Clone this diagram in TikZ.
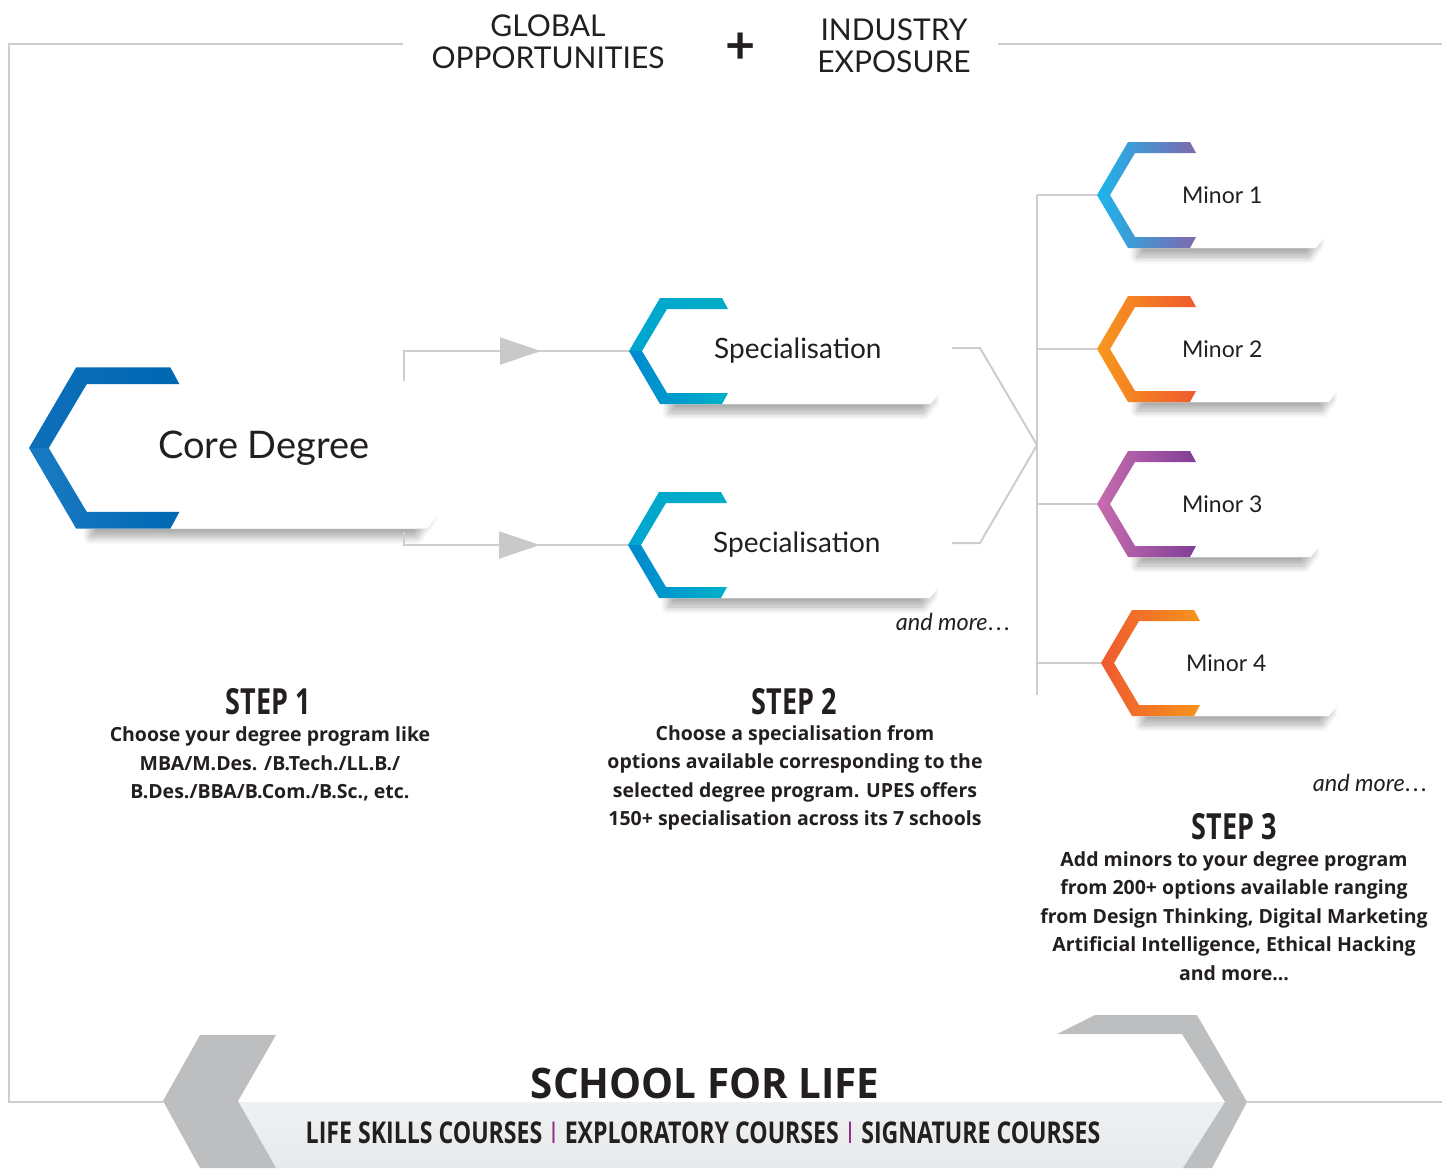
\documentclass[tikz,border=0pt]{standalone}
\usepackage{fontspec}
\setmainfont{Lato}
\newfontfamily\bodyfont{Open Sans}
\newfontfamily\heavyfont[FakeStretch=0.96]{Open Sans}
\newfontfamily\condfont[FakeStretch=0.75]{Open Sans}
\newfontfamily\coursefont[FakeStretch=0.77]{Open Sans}
\usetikzlibrary{arrows.meta,decorations.markings,shadows.blur,positioning}

\definecolor{textdark}{HTML}{231F20}
\definecolor{linegray}{HTML}{CDCDCD}
\definecolor{chevgray}{HTML}{BCBEC0}
\definecolor{tipgray}{HTML}{C8C9CB}
\definecolor{sepviolet}{HTML}{8E2A8A}
\definecolor{bandtop}{HTML}{EEF0F1}
\definecolor{bandbot}{HTML}{E7EAEB}
% bracket colours
\definecolor{coreA}{HTML}{0E6FB9}
\definecolor{coreB}{HTML}{0067B3}
\definecolor{coreC}{HTML}{1A7BC3}
\definecolor{specA}{HTML}{00A6CF}
\definecolor{specB}{HTML}{00ACC6}
\definecolor{specC}{HTML}{0088CF}
\definecolor{specD}{HTML}{00B1C9}
\definecolor{minAa}{HTML}{1BB6EC}
\definecolor{minAb}{HTML}{7F68AE}
\definecolor{minBa}{HTML}{F7981D}
\definecolor{minBb}{HTML}{EF5A2F}
\definecolor{minCa}{HTML}{C86CAE}
\definecolor{minCb}{HTML}{7F3F98}
\definecolor{minDa}{HTML}{EF5A2F}
\definecolor{minDb}{HTML}{F7941D}

% one bracket box: name, tip point, scale, card width, upper arm, lower arm, text
\newcommand{\hexcard}[7]{%
  \begin{scope}[shift={(#2)}, scale=#3]
    \fill[white, cardshadow] (40,-40) -- (24+#4,-40) -- (24+#4,41) -- (15+#4,53) -- (40,53) -- cycle;
    \fill[white] (31,-53) -- (31+#4,-53) -- (31+#4,41) -- (22+#4,53) -- (31,53) -- cycle;
    \shade[#5] (0,0) -- (31,-53) -- (93,-53) -- (99,-42) -- (38,-42) -- (13,0) -- cycle;
    \shade[#6] (0,0) -- (13,0) -- (38,42) -- (99,42) -- (93,53) -- (31,53) -- cycle;
    \coordinate (#1-tip) at (0,0);
    \coordinate (#1-east) at (31+#4,0);
    \node[boxtext] (#1) at (85,0) {#7};
  \end{scope}}

\begin{document}
\begin{tikzpicture}[x=1pt, y=-1pt,
  cardshadow/.style={blur shadow={shadow xshift=0pt, shadow yshift=-9pt, shadow blur radius=7pt, shadow blur steps=12, shadow opacity=32}},
  boxtext/.style={anchor=west, inner sep=0pt, font=\fontsize{23}{26}\selectfont, text=textdark},
  link/.style={draw=linegray, line width=2pt},
  frame/.style={draw=linegray, line width=2pt},
  midarrow/.style={postaction={decorate}, decoration={markings, mark=at position -88pt with {\arrow{Triangle[width=27pt, length=41pt, color=tipgray]}}}},
  head/.style={font=\fontsize{30}{32}\selectfont, text=textdark, align=center},
  steptitle/.style={font=\condfont\bfseries\fontsize{36}{38}\selectfont, text=textdark},
  stepbody/.style={font=\bodyfont\bfseries\fontsize{19.5}{28.5}\selectfont, text=textdark, align=center},
  more/.style={font=\itshape\fontsize{23.5}{26}\selectfont, text=textdark},
  ]
\useasboundingbox (0,0) rectangle (1442,1168);

% frame round the whole scheme
\draw[frame] (403,44) -- (9,44) -- (9,1102) -- (163,1102);
\draw[frame] (998,44) -- (1442,44);
\draw[frame] (1247,1102) -- (1442,1102);

% header
\node[head] (global) at (548,42) {GLOBAL\\OPPORTUNITIES};
\node[font=\bfseries\fontsize{52}{52}\selectfont, text=textdark] (plus) at (741,48) {+};
\node[head] (industry) at (894,46) {INDUSTRY\\EXPOSURE};

% boxes
\hexcard{core}{29,448}{1.52}{240}{left color=coreA, right color=coreB}{left color=coreC, right color=coreB}{\fontsize{38}{40}\selectfont Core Degree}
\hexcard{spec1}{629,351}{1}{280}{left color=specA, right color=specB}{left color=specC, right color=specD}{\fontsize{28}{30}\selectfont Specialisation}
\hexcard{spec2}{628,545}{1}{280}{left color=specA, right color=specB}{left color=specC, right color=specD}{\fontsize{28}{30}\selectfont Specialisation}
\hexcard{m1}{1097,195}{1}{197}{left color=minAa, right color=minAb}{left color=minAa, right color=minAb}{Minor 1}
\hexcard{m2}{1097,349}{1}{210}{left color=minBa, right color=minBb}{left color=minBa, right color=minBb}{Minor 2}
\hexcard{m3}{1097,504}{1}{192}{left color=minCa, right color=minCb}{left color=minCa, right color=minCb}{Minor 3}
\hexcard{m4}{1101,663}{1}{206}{left color=minDa, right color=minDb}{left color=minDa, right color=minDb}{Minor 4}

% connectors
\coordinate (hub) at (1037,445);
\coordinate (bustop) at (1037,195);
\coordinate (busbot) at (1037,695);
\draw[link, midarrow] (core-east) ++(-37,-67) |- (spec1-tip);
\draw[link, midarrow] (core-east) ++(-37,84) |- (spec2-tip);
\draw[link] (spec1-east) ++(12,-3) -- ++(28,0) -- (hub);
\draw[link] (spec2-east) ++(13,-2) -- ++(28,0) -- (hub);
\draw[link] (bustop) -- (busbot);
\foreach \m in {m1,m2,m3,m4}
  \draw[link] (\m-tip) -- (\m-tip -| hub);

\node[more] (more1) at (953,622) {and more\kern1pt.\kern2.5pt.\kern2.5pt.};
\node[more] (more2) at (1370,783) {and more\kern1pt.\kern2.5pt.\kern2.5pt.};

% steps
\node[steptitle] (s1) at (268,702) {STEP 1};
\node[stepbody] (s1text) at (270,764) {Choose your degree program like\\MBA/M.Des. /B.Tech./LL.B./\\B.Des./BBA/B.Com./B.Sc., etc.};
\node[steptitle] (s2) at (794,702) {STEP 2};
\node[stepbody] (s2text) at (795,778) {Choose a specialisation from\\options available corresponding to the\\selected degree program. UPES offers\\150+ specialisation across its 7 schools};
\node[steptitle] (s3) at (1234,827) {STEP 3};
\node[stepbody] (s3text) at (1234,916) {Add minors to your degree program\\from 200+ options available ranging\\from Design Thinking, Digital Marketing\\Artificial Intelligence, Ethical Hacking\\and more...};

% school for life banner
\shade[top color=bandtop, bottom color=bandbot] (238,1102) -- (1225,1102) -- (1183,1168) -- (276,1168) -- cycle;
\fill[chevgray] (200,1035) -- (276,1035) -- (238,1101) -- (276,1168) -- (200,1168) -- (163,1101) -- cycle;
\fill[chevgray] (1057,1034) -- (1095,1015) -- (1197,1015) -- (1247,1102) -- (1212,1168) -- (1183,1168) -- (1225,1102) -- (1182,1034) -- cycle;
\node[font=\heavyfont\bfseries\fontsize{42}{44}\selectfont, text=textdark] (school) at (705,1083) {SCHOOL FOR LIFE};
\node[font=\coursefont\bfseries\fontsize{30}{33}\selectfont, text=textdark] (courses) at (703,1133)
  {LIFE SKILLS COURSES\hspace{8pt}{\mdseries\textcolor{sepviolet}{I}}\hspace{8pt}EXPLORATORY COURSES\hspace{8pt}{\mdseries\textcolor{sepviolet}{I}}\hspace{8pt}SIGNATURE COURSES};
\end{tikzpicture}
\end{document}
